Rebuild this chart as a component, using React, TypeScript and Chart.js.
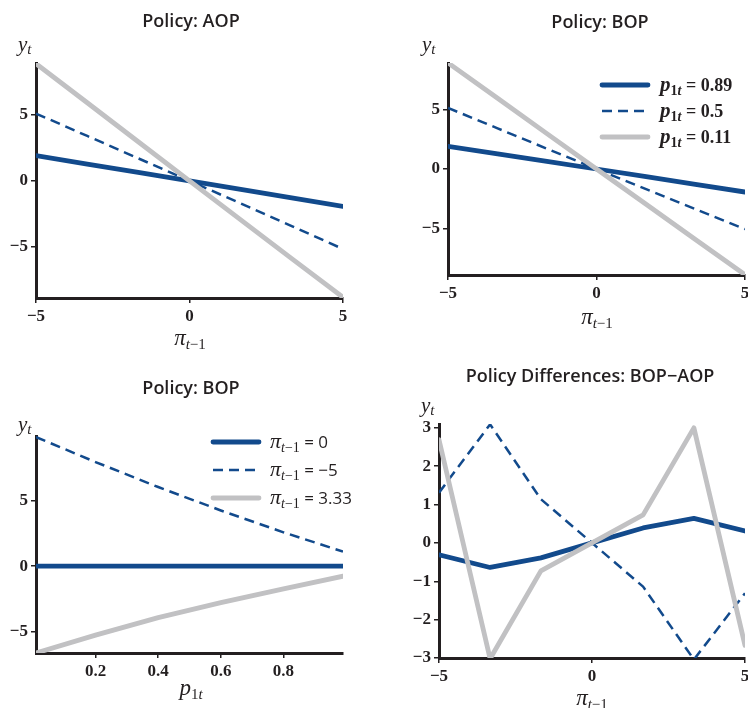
import React, { useEffect, useRef } from "react";
import { Chart, registerables } from "chart.js";

Chart.register(...registerables);

// ---------- data ----------
const piX = [-5, -3.33, -1.67, 0, 1.67, 3.33, 5];
const aopP089 = [1.9, 1.27, 0.63, 0, -0.64, -1.28, -1.93];
const aopP05 = [5.08, 3.39, 1.7, 0, -1.71, -3.42, -5.15];
const aopP011 = [8.85, 5.9, 2.95, 0, -2.95, -5.88, -8.8];

const bopP089 = [1.91, 1.27, 0.64, 0, -0.65, -1.29, -1.94];
const bopP05 = [5.14, 3.42, 1.71, 0, -1.69, -3.38, -5.06];
const bopP011 = [8.93, 5.95, 2.98, 0, -2.97, -5.93, -8.9];

const p1tX = [0.01, 0.2, 0.4, 0.6, 0.8, 0.99];
const bopPi0 = [0, 0, 0, 0, 0, 0];
const bopPiM5 = [9.92, 8.0, 6.08, 4.28, 2.6, 1.12];
const bopPi333 = [-6.67, -5.3, -3.95, -2.8, -1.75, -0.77];

const diffP089 = [-0.31, -0.64, -0.39, 0, 0.39, 0.64, 0.31];
const diffP05 = [1.31, 3.09, 1.14, 0, -1.14, -3.04, -1.31];
const diffP011 = [2.69, -3.02, -0.73, 0, 0.73, 3.0, -2.67];

const piTicks = [-5, 0, 5];
const levelTicks = [-5, 0, 5];
const p1tTicks = [0.2, 0.4, 0.6, 0.8];
const diffTicks = [-3, -2, -1, 0, 1, 2, 3];

const legendPValues = ["0.89", "0.5", "0.11"];
const legendPiValues = ["0", "\u22125", "3.33"];

// ---------- style ----------
const BLUE = "#124a8c";
const GRAY = "#c1c1c3";
const INK = "#231f20";
const SERIF = '"Liberation Serif", "DejaVu Serif", serif';
const SANS = '"Open Sans", "DejaVu Sans", sans-serif';

const STYLES = [
  { color: BLUE, width: 4.8, dash: [] as number[], cap: "round" as const, order: 3 },
  { color: BLUE, width: 2.5, dash: [10, 6], cap: "butt" as const, order: 2 },
  { color: GRAY, width: 4.8, dash: [] as number[], cap: "round" as const, order: 1 },
];

type Run = { t: string; font: string; dy?: number };

const piRuns = (size: number, sub: number): Run[] => [
  { t: "\u03c0", font: `italic ${size}px ${SERIF}` },
  { t: "t", font: `italic ${sub}px ${SERIF}`, dy: 4 },
  { t: "\u22121", font: `${sub}px ${SERIF}`, dy: 4 },
];
const yRuns: Run[] = [
  { t: "y", font: `italic 21px ${SERIF}` },
  { t: "t", font: `italic 15px ${SERIF}`, dy: 3 },
];
const pRuns = (bold: boolean, size: number, sub: number): Run[] => [
  { t: "p", font: `italic ${bold ? "bold " : ""}${size}px ${SERIF}` },
  { t: "1", font: `${bold ? "bold " : ""}${sub}px ${SERIF}`, dy: 4 },
  { t: "t", font: `italic ${bold ? "bold " : ""}${sub}px ${SERIF}`, dy: 4 },
];

function drawRuns(ctx: CanvasRenderingContext2D, runs: Run[], x: number, y: number, align: "left" | "center") {
  ctx.save();
  ctx.textAlign = "left";
  ctx.textBaseline = "alphabetic";
  ctx.fillStyle = INK;
  let total = 0;
  for (const r of runs) {
    ctx.font = r.font;
    total += ctx.measureText(r.t).width;
  }
  let cx = align === "center" ? x - total / 2 : x;
  for (const r of runs) {
    ctx.font = r.font;
    ctx.fillText(r.t, cx, y + (r.dy || 0));
    cx += ctx.measureText(r.t).width;
  }
  ctx.restore();
}

type Panel = {
  box: [number, number, number, number];
  area: [number, number, number, number];
  xMin: number;
  xMax: number;
  yMin: number;
  yMax: number;
  xTicks: number[];
  yTicks: number[];
  xs: number[];
  series: number[][];
  title: string;
  titleAt: [number, number];
  xTitle: Run[];
  xTitleAt: [number, number];
  yTitleAt: [number, number];
  legend?: { rows: Run[][]; lineX: [number, number]; textX: number; ys: number[] };
};

const fmtNum = (v: number) => {
  const s = Math.abs(v) < 1e-9 ? "0" : String(Math.round(v * 100) / 100);
  return s.replace("-", "\u2212");
};

const PANELS: Panel[] = [
  {
    box: [0, 0, 374, 354],
    area: [36, 63, 343, 298],
    xMin: -5, xMax: 5, yMin: -8.85, yMax: 8.9,
    xTicks: piTicks, yTicks: levelTicks,
    xs: piX, series: [aopP089, aopP05, aopP011],
    title: "Policy: AOP", titleAt: [191, 27],
    xTitle: piRuns(23, 15), xTitleAt: [190, 345],
    yTitleAt: [18, 51],
  },
  {
    box: [374, 0, 400, 354],
    area: [448, 63, 745, 275],
    xMin: -5, xMax: 5, yMin: -8.92, yMax: 8.92,
    xTicks: piTicks, yTicks: levelTicks,
    xs: piX, series: [bopP089, bopP05, bopP011],
    title: "Policy: BOP", titleAt: [600, 28],
    xTitle: piRuns(23, 15), xTitleAt: [597, 324],
    yTitleAt: [422, 51],
    legend: {
      rows: legendPValues.map((v) => [
        ...pRuns(true, 21, 14),
        { t: " = " + v, font: `bold 18px ${SERIF}` },
      ]),
      lineX: [602, 648],
      textX: 660,
      ys: [85, 111, 137],
    },
  },
  {
    box: [0, 354, 374, 354],
    area: [36, 436, 343, 653],
    xMin: 0.01, xMax: 0.99, yMin: -6.67, yMax: 10,
    xTicks: p1tTicks, yTicks: levelTicks,
    xs: p1tX, series: [bopPi0, bopPiM5, bopPi333],
    title: "Policy: BOP", titleAt: [191, 394],
    xTitle: pRuns(false, 23, 15), xTitleAt: [191, 695],
    yTitleAt: [18, 431],
    legend: {
      rows: legendPiValues.map((v) => [
        ...piRuns(22, 14),
        { t: " = " + v, font: `17px ${SANS}` },
      ]),
      lineX: [213, 259],
      textX: 270,
      ys: [442, 470, 498],
    },
  },
  {
    box: [374, 354, 400, 354],
    area: [439, 424, 745, 658],
    xMin: -5, xMax: 5, yMin: -3, yMax: 3.1,
    xTicks: piTicks, yTicks: diffTicks,
    xs: piX, series: [diffP089, diffP05, diffP011],
    title: "Policy Differences: BOP\u2212AOP", titleAt: [590, 382],
    xTitle: piRuns(23, 15), xTitleAt: [592, 705],
    yTitleAt: [421, 412],
  },
];

function makeChart(canvas: HTMLCanvasElement, p: Panel) {
  const [bx, by, bw, bh] = p.box;
  const [al, at, ar, ab] = p.area;
  const L = al - bx;
  const T = at - by;
  const R = bx + bw - ar;
  const B = by + bh - ab;

  const axisCommon = {
    type: "linear" as const,
    grid: {
      display: true,
      drawOnChartArea: false,
      drawTicks: true,
      tickLength: 5,
      color: INK,
      lineWidth: 1.5,
    },
    border: { display: true, color: INK, width: 3 },
    ticks: {
      color: INK,
      font: { family: SERIF, size: 17, weight: "bold" },
      padding: 3,
      maxRotation: 0,
      autoSkip: false,
      callback: (v: any) => fmtNum(Number(v)),
    },
  };

  const textPlugin = {
    id: "panelText",
    afterDraw(chart: any) {
      const ctx: CanvasRenderingContext2D = chart.ctx;
      // title
      ctx.save();
      ctx.fillStyle = INK;
      ctx.font = `600 18px ${SANS}`;
      ctx.textAlign = "center";
      ctx.textBaseline = "alphabetic";
      ctx.fillText(p.title, p.titleAt[0] - bx, p.titleAt[1] - by);
      ctx.restore();
      // axis titles
      drawRuns(ctx, yRuns, p.yTitleAt[0] - bx, p.yTitleAt[1] - by, "left");
      drawRuns(ctx, p.xTitle, p.xTitleAt[0] - bx, p.xTitleAt[1] - by, "center");
      // legend
      if (p.legend) {
        const lg = p.legend;
        lg.rows.forEach((runs, i) => {
          const st = STYLES[i];
          const y = lg.ys[i] - by;
          ctx.save();
          ctx.strokeStyle = st.color;
          ctx.lineWidth = st.width;
          ctx.lineCap = st.cap;
          ctx.setLineDash(st.dash);
          ctx.beginPath();
          ctx.moveTo(lg.lineX[0] - bx, y);
          ctx.lineTo(lg.lineX[1] - bx, y);
          ctx.stroke();
          ctx.restore();
          drawRuns(ctx, runs, lg.textX - bx, y + 6, "left");
        });
      }
    },
  };

  return new Chart(canvas, {
    type: "scatter",
    data: {
      datasets: p.series.map((vals, k) => ({
        label: String(k),
        data: p.xs.map((x, j) => ({ x, y: vals[j] })),
        showLine: true,
        borderColor: STYLES[k].color,
        backgroundColor: STYLES[k].color,
        borderWidth: STYLES[k].width,
        borderDash: STYLES[k].dash,
        borderCapStyle: STYLES[k].cap,
        borderJoinStyle: "round",
        pointRadius: 0,
        pointHoverRadius: 0,
        tension: 0,
        fill: false,
        order: STYLES[k].order,
      })),
    },
    options: {
      responsive: false,
      maintainAspectRatio: false,
      animation: false,
      events: [],
      layout: { padding: { top: T, right: R, left: 0, bottom: 0 } },
      plugins: {
        legend: { display: false },
        title: { display: false },
        tooltip: { enabled: false },
      },
      scales: {
        x: {
          ...axisCommon,
          position: "bottom",
          min: p.xMin,
          max: p.xMax,
          afterBuildTicks: (s: any) => {
            s.ticks = p.xTicks.map((v) => ({ value: v }));
          },
          afterFit: (s: any) => {
            s.height = B;
          },
        },
        y: {
          ...axisCommon,
          position: "left",
          min: p.yMin,
          max: p.yMax,
          afterBuildTicks: (s: any) => {
            s.ticks = p.yTicks.map((v) => ({ value: v }));
          },
          afterFit: (s: any) => {
            s.width = L;
          },
        },
      },
    } as any,
    plugins: [textPlugin],
  });
}

export default function App() {
  const refs = useRef<(HTMLCanvasElement | null)[]>([]);
  useEffect(() => {
    const charts = PANELS.map((p, i) => makeChart(refs.current[i] as HTMLCanvasElement, p));
    return () => charts.forEach((c) => c.destroy());
  }, []);
  return (
    <div
      style={{
        position: "absolute",
        left: 0,
        top: 0,
        width: 748,
        height: 708,
        overflow: "hidden",
        background: "#ffffff",
      }}
    >
      {PANELS.map((p, i) => (
        <canvas
          key={i}
          ref={(el) => {
            refs.current[i] = el;
          }}
          width={p.box[2]}
          height={p.box[3]}
          style={{
            position: "absolute",
            left: p.box[0],
            top: p.box[1],
            width: p.box[2],
            height: p.box[3],
          }}
        />
      ))}
    </div>
  );
}
